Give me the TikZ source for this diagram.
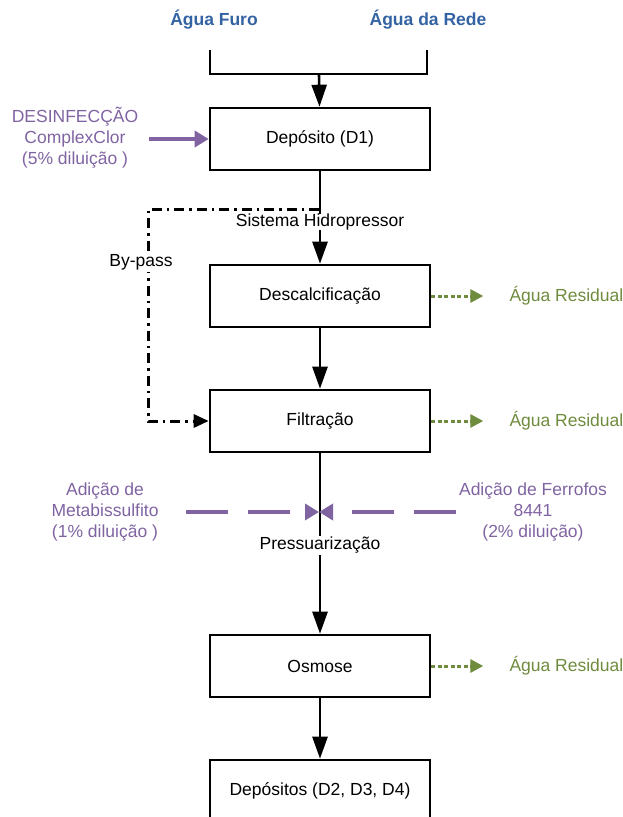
\documentclass[tikz,border=0pt]{standalone}
\usepackage{fontspec}
\setmainfont{Liberation Sans}
\usetikzlibrary{positioning,arrows.meta}

\definecolor{sourceblue}{HTML}{3463A3}
\definecolor{dosepurple}{HTML}{8064A2}
\definecolor{drainolive}{HTML}{6F8B3D}

\tikzset{
    stage/.style={draw,line width=2.6pt,minimum width=220pt,minimum height=62pt},
    pipe/.style={line width=2.6pt},
    flow/.style={pipe,-{Triangle[length=22pt,width=15pt]}},
    bypass/.style={line width=3pt,dash pattern=on 10pt off 5pt on 2.5pt off 5pt,-{Triangle[length=15pt,width=13pt]}},
    source/.style={text=sourceblue,font=\bfseries\fontsize{17.5}{21}\selectfont},
    dose/.style={text=dosepurple,align=center},
    dosing/.style={dosepurple,line width=4pt,-{Triangle[length=14pt,width=16pt]}},
    dosedash/.style={dosing,dash pattern=on 42pt off 20pt},
    reslabel/.style={text=drainolive,inner sep=0pt},
    drain/.style={drainolive,line width=3pt,dash pattern=on 4pt off 2.5pt,-{Triangle[length=13pt,width=13pt]},shorten >=26pt}
}

\begin{document}
\begin{tikzpicture}[x=1pt,y=-1pt,font=\fontsize{17.5}{21}\selectfont]
    \useasboundingbox (0,0) rectangle (623,817);

    % water sources
    \node[source] (furo) at (214,20) {Água Furo};
    \node[source] (rede) at (428,20) {Água da Rede};
    \coordinate (furoin) at (210,50);
    \coordinate (redein) at (427,50);
    \coordinate (merge) at (319,74);
    \draw[pipe] (furoin) |- (merge) -| (redein);

    % treatment stages
    \node[stage] (d1) at (320,139) {Depósito (D1)};
    \node[stage] (descal) at (320,296) {Descalcificação};
    \node[stage] (filtr) at (320,421) {Filtração};
    \node[stage] (osm) at (320,666) {Osmose};
    \node[stage] (deps) at (320,791) {Depósitos (D2, D3, D4)};

    \draw[flow] (merge) -- (d1);
    \draw[flow] (d1) -- node[pos=0.55,fill=white,inner sep=0pt] (hidro) {Sistema Hidropressor} (descal);
    \draw[flow] (descal) -- (filtr);
    \draw[flow] (osm) -- (deps);

    % by-pass
    \coordinate (split) at (319,209);
    \coordinate (byx) at (148,209);
    \draw[bypass] (split) -- (byx) -- (byx |- filtr.west) -- (filtr.west);
    \node[fill=white,inner sep=2pt] (bylbl) at (141,262) {By-pass};

    % disinfection
    \node[dose] (desinf) at (75,138) {DESINFECÇÃO\\ComplexClor\\(5\% diluição )};
    \coordinate (desinfout) at (149,139);
    \draw[dosing] (desinfout) -- (d1.west);

    % chemical injection before pressurisation
    \node[dose] (metab) at (105,512) {Adição de\\Metabissulfito\\(1\% diluição )};
    \node[dose] (ferro) at (533,512) {Adição de Ferrofos\\8441\\(2\% diluição)};
    \coordinate (inject) at (319,512);
    \draw[flow] (filtr) -- node[pos=0.51,fill=white,inner sep=1pt] (press) {Pressuarização} (osm);
    \draw[dosedash,shorten <=24pt] (metab) -- (inject);
    \draw[dosedash] (ferro) -- (inject);

    % waste water
    \foreach \s in {descal,filtr,osm} {
        \node[reslabel,right=78pt of \s] (res\s) {Água Residual};
        \draw[drain] (\s) -- (res\s);
    }
\end{tikzpicture}
\end{document}
